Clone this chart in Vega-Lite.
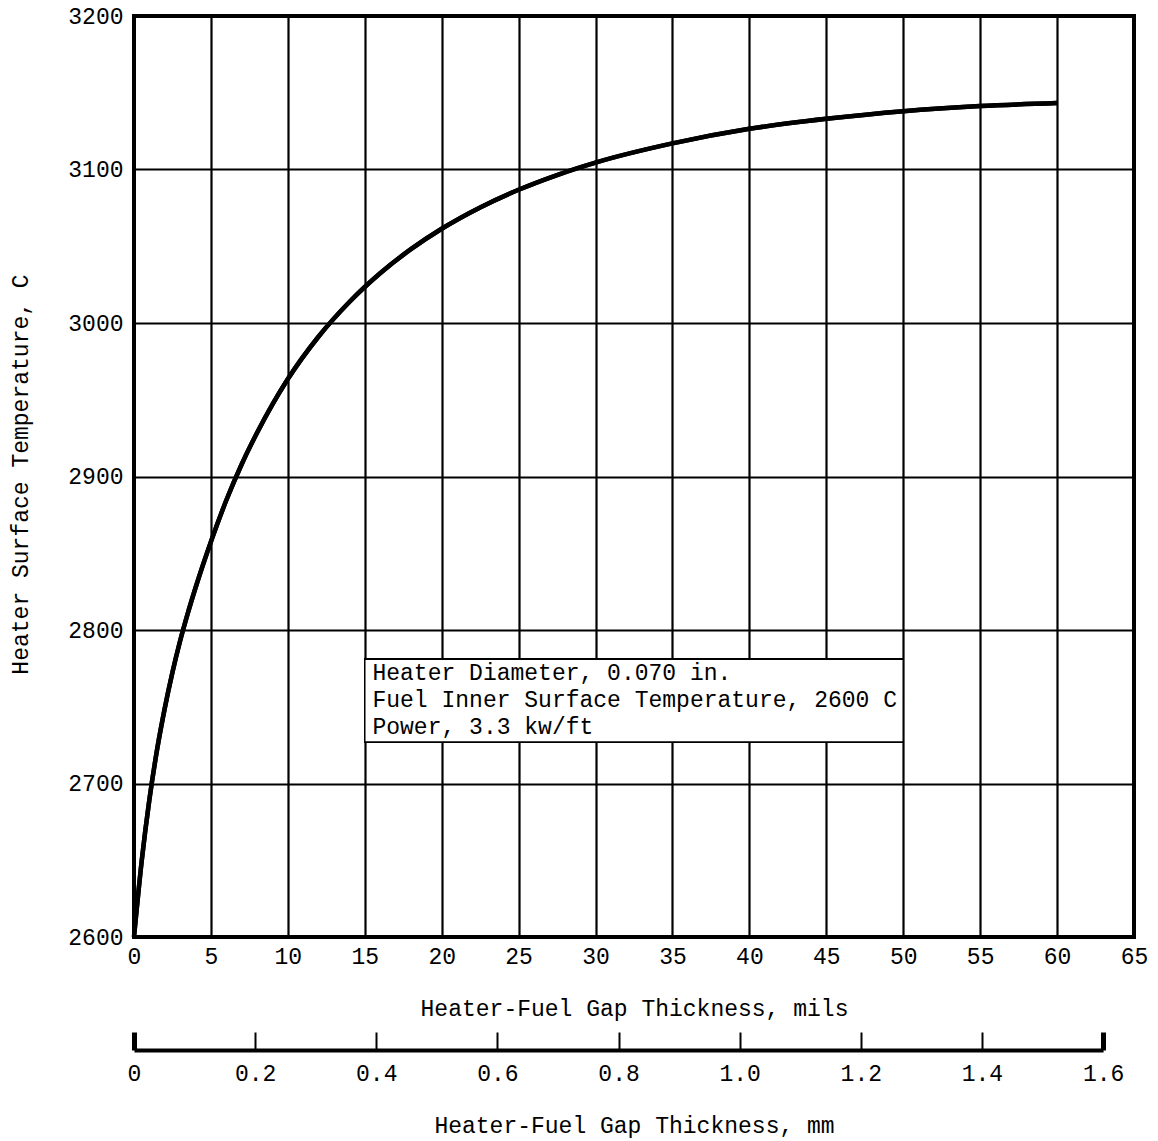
{
  "$schema": "https://vega.github.io/schema/vega-lite/v6.json",
  "width": 1000,
  "height": 921,
  "autosize": {"type": "none"},
  "padding": {"left": 134, "top": 16, "right": 24, "bottom": 204},
  "background": "white",
  "config": {
    "view": {"stroke": "black", "strokeWidth": 4},
    "font": "Liberation Mono",
    "axis": {
      "labelFont": "Liberation Mono",
      "titleFont": "Liberation Mono",
      "labelColor": "black",
      "titleColor": "black",
      "labelFontSize": 23,
      "titleFontSize": 23,
      "titleFontWeight": "normal"
    }
  },
  "data": {
    "values": [
      {"mils": 0, "mm": 0, "temp": 2600},
      {"mils": 0.5, "mm": 0.0127, "temp": 2649.5},
      {"mils": 1, "mm": 0.0254, "temp": 2689.5},
      {"mils": 1.5, "mm": 0.0381, "temp": 2722},
      {"mils": 2, "mm": 0.0508, "temp": 2749},
      {"mils": 2.5, "mm": 0.0635, "temp": 2772.5},
      {"mils": 3, "mm": 0.0762, "temp": 2793},
      {"mils": 3.5, "mm": 0.0889, "temp": 2811},
      {"mils": 4, "mm": 0.1016, "temp": 2827.5},
      {"mils": 5, "mm": 0.127, "temp": 2857.5},
      {"mils": 6, "mm": 0.1524, "temp": 2884.5},
      {"mils": 7, "mm": 0.1778, "temp": 2908},
      {"mils": 8, "mm": 0.2032, "temp": 2928.5},
      {"mils": 9, "mm": 0.2286, "temp": 2947},
      {"mils": 10, "mm": 0.254, "temp": 2963.5},
      {"mils": 12, "mm": 0.3048, "temp": 2991.2},
      {"mils": 14, "mm": 0.3556, "temp": 3013.7},
      {"mils": 16, "mm": 0.4064, "temp": 3032.4},
      {"mils": 18, "mm": 0.4572, "temp": 3048.1},
      {"mils": 20, "mm": 0.508, "temp": 3061.4},
      {"mils": 22.5, "mm": 0.5715, "temp": 3075.3},
      {"mils": 25, "mm": 0.635, "temp": 3086.8},
      {"mils": 27.5, "mm": 0.6985, "temp": 3096.4},
      {"mils": 30, "mm": 0.762, "temp": 3104.5},
      {"mils": 35, "mm": 0.889, "temp": 3117},
      {"mils": 40, "mm": 1.016, "temp": 3126.5},
      {"mils": 45, "mm": 1.143, "temp": 3133},
      {"mils": 50, "mm": 1.27, "temp": 3138},
      {"mils": 55, "mm": 1.397, "temp": 3141.3},
      {"mils": 60, "mm": 1.524, "temp": 3143.3}
    ]
  },
  "layer": [
    {
      "resolve": {"scale": {"x": "shared", "y": "shared"}, "axis": {"x": "shared", "y": "shared"}},
      "layer": [
        {
          "mark": {"type": "line", "color": "black", "strokeWidth": 4.5, "interpolate": "monotone"},
          "encoding": {
            "x": {
              "field": "mils",
              "type": "quantitative",
              "scale": {"domain": [0, 65], "nice": false, "zero": false},
              "axis": {
                "values": [0, 5, 10, 15, 20, 25, 30, 35, 40, 45, 50, 55, 60, 65],
                "grid": true,
                "gridColor": "black",
                "gridWidth": 2.2,
                "gridOpacity": 1,
                "ticks": false,
                "domain": false,
                "labelPadding": 8,
                "labelFlush": false,
                "format": "d",
                "title": "Heater-Fuel Gap Thickness, mils",
                "titleY": 71,
                "titleBaseline": "middle"
              }
            },
            "y": {
              "field": "temp",
              "type": "quantitative",
              "scale": {"domain": [2600, 3200], "nice": false, "zero": false},
              "axis": {
                "values": [2600, 2700, 2800, 2900, 3000, 3100, 3200],
                "grid": true,
                "gridColor": "black",
                "gridWidth": 2.2,
                "gridOpacity": 1,
                "ticks": false,
                "domain": false,
                "labelPadding": 11,
                "labelFlush": false,
                "format": "d",
                "title": "Heater Surface Temperature, C",
                "titleX": -114,
                "titleY": 458,
                "titleAngle": -90,
                "titleAlign": "center",
                "titleBaseline": "middle"
              }
            }
          }
        },
        {
          "mark": {"type": "rect", "fill": "white", "stroke": "black", "strokeWidth": 1.5},
          "encoding": {
            "x": {"datum": 15, "type": "quantitative"},
            "x2": {"datum": 50},
            "y": {"datum": 2727, "type": "quantitative"},
            "y2": {"datum": 2781}
          }
        },
        {
          "data": {"values": [{"note": "Heater Diameter, 0.070 in.\nFuel Inner Surface Temperature, 2600 C\nPower, 3.3 kw/ft"}]},
          "mark": {"type": "text", "align": "left", "baseline": "top", "lineBreak": "\n", "lineHeight": 27, "fontSize": 23, "font": "Liberation Mono", "color": "black"},
          "encoding": {
            "x": {"datum": 15.5, "type": "quantitative"},
            "y": {"datum": 2779, "type": "quantitative"},
            "text": {"field": "note"}
          }
        }
      ]
    },
    {
      "mark": {"type": "line", "color": "black", "strokeWidth": 4.5, "interpolate": "monotone"},
      "encoding": {
        "x": {
          "field": "mm",
          "type": "quantitative",
          "scale": {"domain": [0, 1.6], "range": [0, 969.1], "nice": false, "zero": false},
          "axis": {
            "orient": "bottom",
            "offset": 113,
            "values": [0, 0.2, 0.4, 0.6, 0.8, 1.0, 1.2, 1.4, 1.6],
            "labelExpr": "datum.value == 0 ? '0' : format(datum.value, '.1f')",
            "grid": false,
            "domain": true,
            "domainColor": "black",
            "domainWidth": 4,
            "ticks": true,
            "tickColor": "black",
            "tickSize": -18,
            "tickWidth": {"condition": {"test": "datum.value == 0 || datum.value == 1.6", "value": 5}, "value": 2},
            "labelPadding": 30,
            "labelFlush": false,
            "title": "Heater-Fuel Gap Thickness, mm",
            "titleX": 500,
            "titleY": 75,
            "titleAlign": "center",
            "titleBaseline": "middle"
          }
        },
        "y": {"field": "temp", "type": "quantitative"}
      }
    }
  ],
  "resolve": {"scale": {"x": "independent"}, "axis": {"x": "independent"}}
}
